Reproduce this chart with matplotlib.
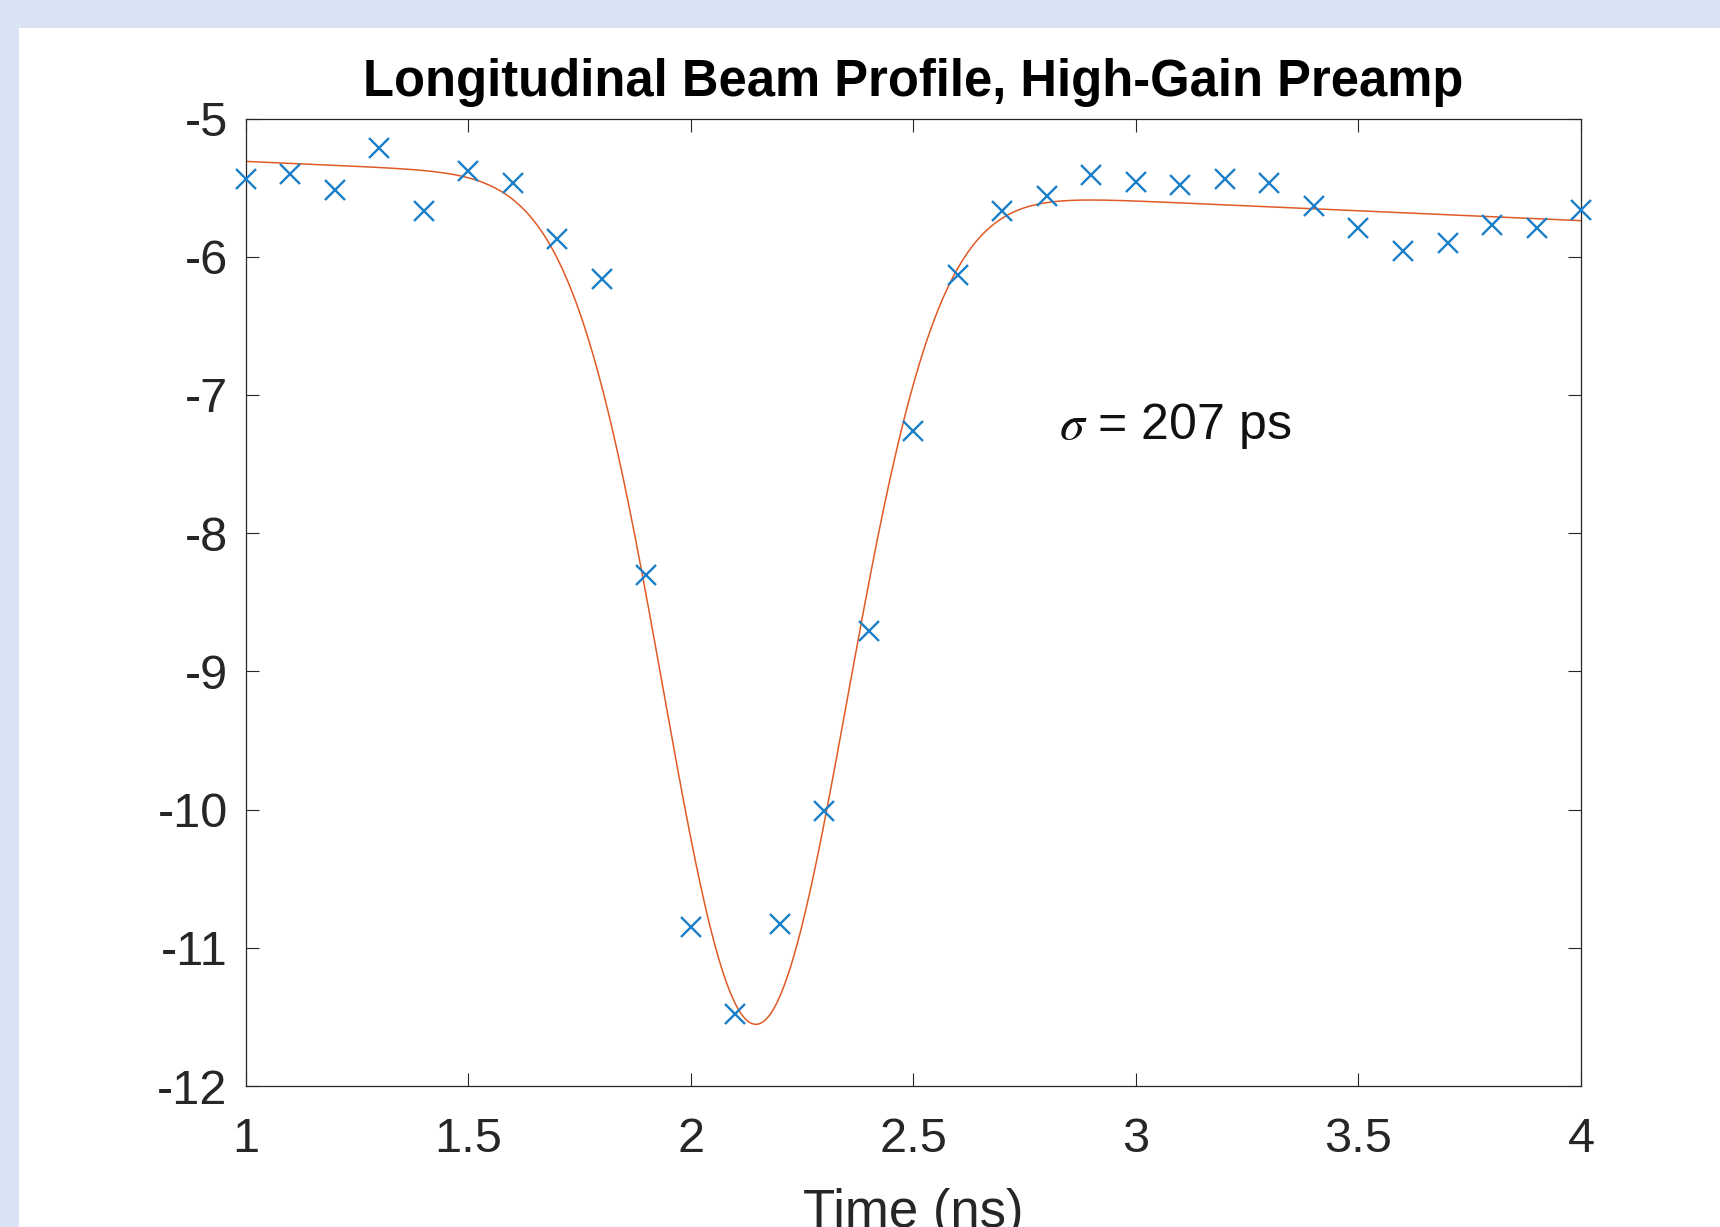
import numpy as np
import matplotlib

matplotlib.use('Agg')
import matplotlib.pyplot as plt
from matplotlib.patches import Rectangle

plt.rcParams['font.family'] = ['Liberation Sans', 'DejaVu Sans']
plt.rcParams['mathtext.fontset'] = 'stix'
plt.rcParams['axes.unicode_minus'] = False

# --- measured samples (ns, signal) ---
time_ns = [1.0, 1.1, 1.2, 1.3, 1.4, 1.5, 1.6, 1.7, 1.8, 1.9,
           2.0, 2.1, 2.2, 2.3, 2.4, 2.5, 2.6, 2.7, 2.8, 2.9,
           3.0, 3.1, 3.2, 3.3, 3.4, 3.5, 3.6, 3.7, 3.8, 3.9, 4.0]
signal = [-5.44, -5.40, -5.52, -5.21, -5.67, -5.38, -5.47, -5.87, -6.16, -8.30,
          -10.85, -11.48, -10.83, -10.01, -8.71, -7.26, -6.13, -5.67, -5.56, -5.41,
          -5.46, -5.48, -5.44, -5.47, -5.63, -5.79, -5.96, -5.90, -5.77, -5.79, -5.66]

# --- gaussian fit on a linear baseline ---
fit_center = 2.145
fit_sigma = 0.207
fit_amp = -6.08
base_at_1 = -5.31
base_slope = -0.143

xticks = [1, 1.5, 2, 2.5, 3, 3.5, 4]
yticks = [-12, -11, -10, -9, -8, -7, -6, -5]

fig = plt.figure(figsize=(17.2, 12.27), dpi=100, facecolor='#dae3f3')
panel = Rectangle((19 / 1720, 0), 1, 1 - 28 / 1227, transform=fig.transFigure,
                  facecolor='white', edgecolor='none', zorder=-5)
fig.add_artist(panel)

ax = fig.add_axes([0.1429, 0.1149, 0.7763, 0.7885])

t = np.linspace(time_ns[0], time_ns[-1], 800)
fit = base_at_1 + base_slope * (t - 1) + fit_amp * np.exp(-(t - fit_center) ** 2 / (2 * fit_sigma ** 2))

ax.plot(time_ns, signal, linestyle='none', marker='x', markersize=15, markeredgewidth=1.7,
        color='#1a7fc8', clip_on=False, zorder=3)
ax.plot(t, fit, color='#e05a25', linewidth=1.1, zorder=2)

ax.set_xlim(1, 4)
ax.set_ylim(-12, -5)
ax.set_xticks(xticks)
ax.set_xticklabels(['1', '1.5', '2', '2.5', '3', '3.5', '4'])
ax.set_yticks(yticks)
ax.tick_params(direction='in', length=9.4, width=0.8, color='#262626', labelcolor='#262626',
               top=True, right=True, labelsize=35)
ax.tick_params(axis='x', pad=22)
ax.tick_params(axis='y', pad=13)
for s in ax.spines.values():
    s.set_color('#262626')
    s.set_linewidth(0.9)

ax.set_title('Longitudinal Beam Profile, High-Gain Preamp', fontsize=36.5, fontweight='bold', pad=16)
ax.set_xlabel('Time (ns)', fontsize=38, color='#262626', labelpad=19)
ax.text(2.826, -7.317, r'$\sigma$ = 207 ps', fontsize=36, color='#111111', va='baseline', ha='left')

fig.savefig('out.png', dpi=100, facecolor=fig.get_facecolor())
